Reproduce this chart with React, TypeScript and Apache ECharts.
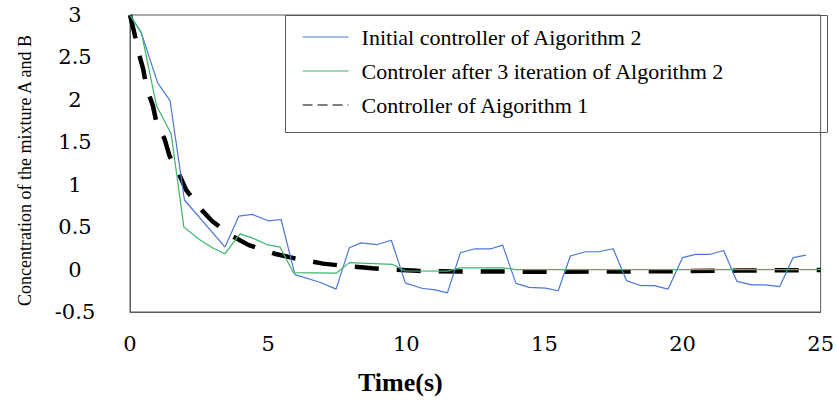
import React, { useEffect, useRef } from "react";
import * as echarts from "echarts";

const xTicks = { min: 0, max: 25, interval: 5 };
const yTicks = { min: -0.5, max: 3, interval: 0.5 };

const seriesNames = [
  "Initial controller of Aigorithm 2",
  "Controler after 3 iteration of Algorithm 2",
  "Controller of Aigorithm 1",
];

const blueT = [0, 0.4, 0.6, 1.0, 1.45, 1.97, 3.44, 3.94, 4.42, 5.0, 5.47, 5.97, 6.87, 7.46, 7.94, 8.36, 8.95, 9.46, 9.97, 10.57, 11.04, 11.49, 11.96, 12.48, 13.07, 13.49, 13.97, 14.45, 15.04, 15.5, 15.94, 16.48, 16.95, 17.49, 17.97, 18.5, 18.98, 19.48, 20.0, 20.47, 21.01, 21.49, 21.97, 22.5, 22.98, 23.52, 24.0, 24.47];
const blueY = [3.0, 2.8, 2.6, 2.2, 1.99, 0.82, 0.265, 0.63, 0.65, 0.575, 0.59, -0.06, -0.15, -0.23, 0.257, 0.315, 0.295, 0.346, -0.16, -0.22, -0.24, -0.275, 0.198, 0.245, 0.245, 0.288, -0.163, -0.21, -0.218, -0.25, 0.16, 0.21, 0.21, 0.245, -0.13, -0.19, -0.19, -0.23, 0.14, 0.18, 0.18, 0.225, -0.14, -0.18, -0.18, -0.2, 0.14, 0.17];

const greenT = [0, 0.42, 0.96, 1.49, 1.95, 2.51, 2.98, 3.44, 3.98, 4.42, 4.95, 5.43, 5.91, 7.46, 7.94, 9.49, 9.95, 11.5, 11.96, 13.5, 13.97, 25];
const greenY = [3.0, 2.78, 1.93, 1.6, 0.5, 0.354, 0.257, 0.187, 0.42, 0.373, 0.295, 0.265, -0.035, -0.043, 0.082, 0.062, -0.015, -0.018, 0.02, 0.02, 0.0, 0.0];

const blackT = [0, 0.17, 0.3, 0.48, 0.6, 0.83, 0.96, 1.25, 1.43, 1.77, 2.03, 2.51, 2.98, 3.64, 4.3, 5.23, 5.97, 6.98, 7.76, 8.78, 9.55, 10.4, 12, 15, 18, 20, 22, 25];
const blackY = [3.0, 2.77, 2.57, 2.36, 2.14, 1.93, 1.73, 1.54, 1.34, 1.13, 0.94, 0.73, 0.57, 0.405, 0.288, 0.187, 0.132, 0.07, 0.043, 0.015, 0.0, -0.015, -0.022, -0.025, -0.022, -0.018, -0.012, -0.005];

const zip = (t: number[], y: number[]) => t.map((v, i) => [v, y[i]]);

const WIDE_SERIF = "DejaVu Serif, serif";
const TIMES = "Liberation Serif, serif";

export default function App() {
  const ref = useRef<HTMLDivElement>(null);
  useEffect(() => {
    if (!ref.current) return;
    const chart = echarts.init(ref.current, null, { renderer: "svg" });
    chart.setOption({
      animation: false,
      backgroundColor: "#fff",
      grid: {
        left: 130,
        right: 9,
        top: 15,
        bottom: 85,
        show: true,
        borderColor: "#5a5a5a",
        borderWidth: 1,
        backgroundColor: "transparent",
      },
      legend: {
        orient: "vertical",
        left: 302,
        top: 26,
        padding: 0,
        itemWidth: 46,
        itemHeight: 14,
        itemGap: 12,
        textStyle: { fontFamily: TIMES, fontSize: 22, color: "#000", padding: [0, 0, 0, 8] },
        data: [
          { name: seriesNames[0], itemStyle: { opacity: 0 }, lineStyle: { width: 1.2 } },
          { name: seriesNames[1], itemStyle: { opacity: 0 }, lineStyle: { width: 1.2 } },
          { name: seriesNames[2], itemStyle: { opacity: 0 }, lineStyle: { width: 1.2, type: [10, 5] } },
        ],
      },
      graphic: [
        {
          type: "rect",
          shape: { x: 285.5, y: 15.5, width: 542, height: 117 },
          style: { fill: "none", stroke: "#5a5a5a", lineWidth: 1 },
          z: 10,
        },
      ],
      xAxis: {
        type: "value",
        min: xTicks.min,
        max: xTicks.max,
        interval: xTicks.interval,
        name: "Time(s)",
        nameLocation: "middle",
        nameGap: 57,
        nameTextStyle: {
          fontFamily: TIMES,
          fontSize: 26,
          fontWeight: "bold",
          color: "#000",
          padding: [0, 150, 0, 0],
        },
        axisLine: { show: true, onZero: false, lineStyle: { color: "#5a5a5a", width: 1 } },
        axisTick: { show: false },
        splitLine: { show: false },
        axisLabel: { fontFamily: WIDE_SERIF, fontSize: 21, color: "#000", margin: 21 },
      },
      yAxis: {
        type: "value",
        min: yTicks.min,
        max: yTicks.max,
        interval: yTicks.interval,
        name: "Concentration of the mixture A and B",
        nameLocation: "middle",
        nameGap: 96,
        nameTextStyle: {
          fontFamily: TIMES,
          fontSize: 18,
          color: "#000",
          padding: [0, 14, 0, 0],
        },
        axisLine: { show: true, onZero: false, lineStyle: { color: "#5a5a5a", width: 1 } },
        axisTick: { show: false },
        splitLine: { show: false },
        axisLabel: { fontFamily: WIDE_SERIF, fontSize: 21, color: "#000", margin: 55, align: "center" },
      },
      series: [
        {
          name: seriesNames[0],
          type: "line",
          data: zip(blueT, blueY),
          symbol: "none",
          showSymbol: false,
          lineStyle: { color: "#4A78D6", width: 1.2 },
          itemStyle: { color: "#4A78D6" },
          z: 3,
        },
        {
          name: seriesNames[1],
          type: "line",
          data: zip(greenT, greenY),
          symbol: "none",
          showSymbol: false,
          lineStyle: { color: "#3DB56B", width: 1.2 },
          itemStyle: { color: "#3DB56B" },
          z: 4,
        },
        {
          name: seriesNames[2],
          type: "line",
          data: zip(blackT, blackY),
          symbol: "none",
          showSymbol: false,
          lineStyle: { color: "#000", width: 4.5, type: [24, 18] },
          itemStyle: { color: "#000" },
          z: 2,
        },
      ],
    });
    return () => chart.dispose();
  }, []);
  return (
    <div
      ref={ref}
      style={{ position: "fixed", left: 0, top: 0, width: 837, height: 400 }}
    />
  );
}
